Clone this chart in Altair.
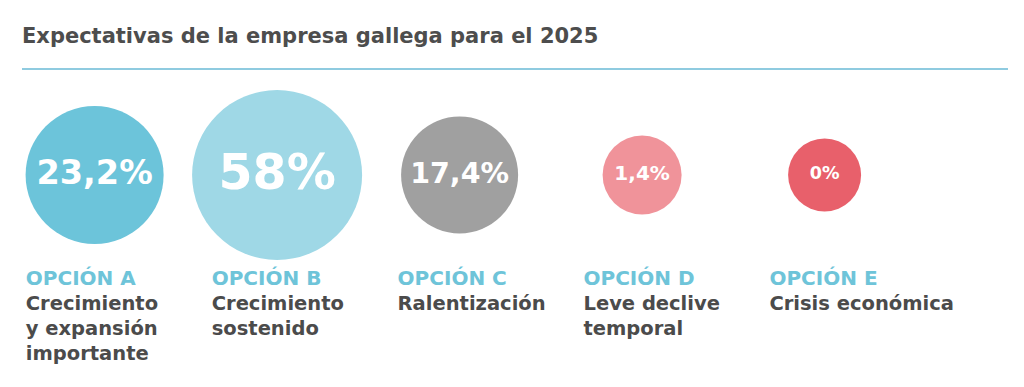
import altair as alt
import pandas as pd

TITLE = "Expectativas de la empresa gallega para el 2025"
OPTIONS = ["OPCIÓN A", "OPCIÓN B", "OPCIÓN C", "OPCIÓN D", "OPCIÓN E"]
DESCRIPTIONS = [
    "Crecimiento\ny expansión\nimportante",
    "Crecimiento\nsostenido",
    "Ralentización",
    "Leve declive\ntemporal",
    "Crisis económica",
]
VALUES = [23.2, 58.0, 17.4, 1.4, 0.0]
LABELS = ["23,2%", "58%", "17,4%", "1,4%", "0%"]
COLORS = ["#6cc4da", "#9fd8e6", "#a0a0a0", "#f0939a", "#e8606b"]

df = pd.DataFrame({
    "option": OPTIONS,
    "desc": DESCRIPTIONS,
    "value": VALUES,
    "label": LABELS,
})

FONT = "DejaVu Sans"
W, H = 1000, 371
size_domain = sorted(VALUES)  # 0, 1.4, 17.4, 23.2, 58

base = alt.Chart(df)

x_circ = alt.X("option:N", scale=alt.Scale(type="point", domain=OPTIONS, range=[86.6, 816.6], padding=0), axis=None)
x_text = alt.X("option:N", scale=alt.Scale(type="point", domain=OPTIONS, range=[17.8, 761.4], padding=0), axis=None)

circles = base.mark_circle(opacity=1).encode(
    x=x_circ,
    y=alt.value(167),
    size=alt.Size("value:Q", scale=alt.Scale(domain=size_domain,
                                              range=[5329, 6241, 13689, 19044, 28900]), legend=None),
    color=alt.Color("option:N", scale=alt.Scale(domain=OPTIONS, range=COLORS), legend=None),
)

pct = base.mark_text(font=FONT, fontWeight="bold", color="white", baseline="middle", align="center", dy=-1).encode(
    x=x_circ,
    y=alt.value(167),
    text="label:N",
    size=alt.Size("value:Q", scale=alt.Scale(domain=size_domain, range=[17.5, 20, 28.5, 33.5, 49]), legend=None),
)

opt = base.mark_text(font=FONT, fontWeight="bold", color="#6ec4d9", fontSize=20,
                     align="left", baseline="alphabetic").encode(
    x=x_text, y=alt.value(277), text="option:N")

desc = base.mark_text(font=FONT, fontWeight="bold", color="#4b4b4b", fontSize=19.5,
                      align="left", baseline="alphabetic", lineBreak="\n", lineHeight=25).encode(
    x=x_text, y=alt.value(302), text="desc:N")

title = alt.Chart(pd.DataFrame({"t": [TITLE]})).mark_text(
    font=FONT, fontWeight="bold", color="#4d4d4d", fontSize=21, align="left", baseline="alphabetic"
).encode(x=alt.value(14), y=alt.value(35), text="t:N")

rule = alt.Chart(pd.DataFrame({"t": [TITLE]})).mark_rule(color="#8fcbe0", strokeWidth=2).encode(
    x=alt.value(14), x2=alt.value(1000), y=alt.value(61))

chart = alt.layer(circles, pct, opt, desc, title, rule).resolve_scale(
    x="independent", size="independent"
).properties(
    width=W, height=H, padding=0, autosize=alt.AutoSizeParams(type="none")
).configure_view(stroke=None)

chart.save("out.html", embed_options={"renderer": "svg", "actions": False})
